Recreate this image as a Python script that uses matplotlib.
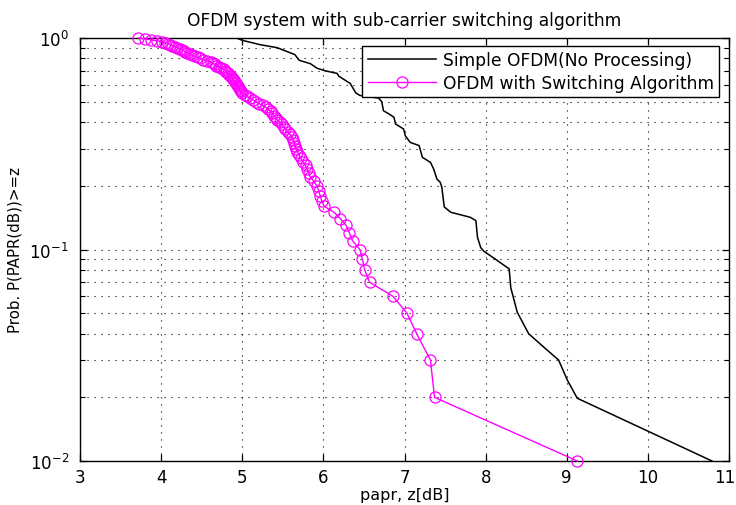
import matplotlib
matplotlib.use("Agg")
import matplotlib.pyplot as plt
import matplotlib.transforms as mtransforms
import numpy as np
from matplotlib.ticker import LogLocator, NullFormatter, FixedLocator

# ---- data ----
# OFDM with switching algorithm: CCDF probabilities 1.00 .. 0.01 (step 0.01)
switch_prob = [round(1.0 - 0.01 * k, 2) for k in range(100)]
switch_papr = [
    3.72, 3.80, 3.88, 3.95, 4.01, 4.05, 4.08, 4.11, 4.14, 4.17,
    4.20, 4.23, 4.26, 4.28, 4.30, 4.32, 4.35, 4.38, 4.42, 4.45,
    4.48, 4.52, 4.57, 4.61, 4.64, 4.66, 4.68, 4.71, 4.74, 4.77,
    4.79, 4.80, 4.82, 4.84, 4.86, 4.87, 4.88, 4.90, 4.91, 4.92,
    4.93, 4.95, 4.96, 4.97, 4.98, 5.00, 5.03, 5.06, 5.09, 5.13,
    5.17, 5.21, 5.25, 5.29, 5.32, 5.35, 5.37, 5.39, 5.41, 5.43,
    5.46, 5.49, 5.51, 5.53, 5.56, 5.59, 5.61, 5.63, 5.64, 5.65,
    5.66, 5.68, 5.70, 5.72, 5.75, 5.78, 5.80, 5.82, 5.84, 5.88,
    5.92, 5.94, 5.96, 5.98, 6.01, 6.13, 6.21, 6.28, 6.32, 6.36,
    6.45, 6.48, 6.51, 6.57, 6.86, 7.03, 7.15, 7.32, 7.37, 9.13,
]

# Simple OFDM (no processing): vertices of the black curve
simple_papr = [4.73, 4.93, 5.00, 5.22, 5.43, 5.65, 5.70, 5.84, 5.92, 6.02,
               6.17, 6.19, 6.33, 6.40, 6.45, 6.68, 6.72, 6.74, 6.81, 6.87,
               6.89, 6.99, 7.01, 7.07, 7.18, 7.22, 7.32, 7.36, 7.40, 7.44,
               7.46, 7.49, 7.57, 7.81, 7.88, 7.90, 7.94, 7.98, 8.12, 8.29,
               8.31, 8.39, 8.53, 8.70, 8.90, 9.01, 9.13, 10.79]
simple_prob = [1.0, 1.0, 0.975, 0.93, 0.90, 0.834, 0.785, 0.756, 0.72, 0.70,
               0.68, 0.66, 0.61, 0.55, 0.535, 0.52, 0.50, 0.453, 0.437, 0.422,
               0.392, 0.371, 0.345, 0.321, 0.31, 0.273, 0.258, 0.24, 0.215, 0.208,
               0.197, 0.159, 0.15, 0.142, 0.137, 0.114, 0.102, 0.098, 0.09, 0.081,
               0.066, 0.0505, 0.04, 0.035, 0.03, 0.024, 0.0198, 0.01]

x_ticks = [3, 4, 5, 6, 7, 8, 9, 10, 11]
title_text = "OFDM system with sub-carrier switching algorithm"
xlabel_text = "papr, z[dB]"
ylabel_text = "Prob. P(PAPR(dB))>=z"
legend_labels = ["Simple OFDM(No Processing)", "OFDM with Switching Algorithm"]

# ---- figure ----
plt.rcParams['font.family'] = ['DejaVu Sans']
plt.rcParams['mathtext.default'] = 'regular'
W, H = 736, 506
fig = plt.figure(figsize=(W / 100, H / 100), dpi=100)
L, R, T, B = 80, 729, 39, 462
ax = fig.add_axes([L / W, 1 - B / H, (R - L) / W, (B - T) / H])

ax.set_yscale('log')
ax.set_xlim(3, 11)
ax.set_ylim(0.01, 1)

grid_style = dict(color='black', linestyle=(0, (1, 5.3)), linewidth=0.8)
ax.grid(True, which='major', axis='both', **grid_style)
ax.grid(True, which='minor', axis='y', **grid_style)
ax.set_axisbelow(True)

l1, = ax.plot(simple_papr, simple_prob, color='black', linewidth=1.1,
              label=legend_labels[0])
l2, = ax.plot(switch_papr, switch_prob, color='#ff00ff', linewidth=1.0,
              marker='o', markersize=8, markerfacecolor='none',
              markeredgecolor='#ff00ff', markeredgewidth=0.9,
              label=legend_labels[1], clip_on=False, zorder=3)

ax.xaxis.set_major_locator(FixedLocator(x_ticks))
ax.yaxis.set_major_locator(LogLocator(base=10, numticks=10))
ax.yaxis.set_minor_locator(LogLocator(base=10, subs=np.arange(2, 10), numticks=20))
ax.yaxis.set_minor_formatter(NullFormatter())

ax.tick_params(which='both', direction='in', top=True, right=True,
               colors='black', labelsize=12)
ax.tick_params(which='major', length=5, width=0.9)
ax.tick_params(which='minor', length=3.5, width=0.8)
ax.tick_params(axis='x', pad=5)
ax.tick_params(axis='y', pad=8)

for s in ax.spines.values():
    s.set_linewidth(1.0)
    s.set_color('black')

ax.set_title(title_text, fontsize=12.3, pad=9)
ax.set_xlabel(xlabel_text, fontsize=11.5)
ax.xaxis.set_label_coords(0.5, -0.062)
ax.set_ylabel(ylabel_text, fontsize=10.8)
ax.yaxis.set_label_coords(-0.089, 0.5)

# keep the last x tick label ("11") inside the canvas
fig.canvas.draw()
last_lbl = ax.get_xticklabels()[-1]
last_lbl.set_transform(last_lbl.get_transform() +
                       mtransforms.ScaledTranslation(-4 / 100, 0, fig.dpi_scale_trans))

leg = ax.legend(handles=[l1, l2], loc='upper right',
                bbox_to_anchor=(719 / W, 1 - 47 / H),
                bbox_transform=fig.transFigure, borderaxespad=0,
                fontsize=12.3, frameon=True, fancybox=False, shadow=False,
                handlelength=4.0, handletextpad=0.4, borderpad=0.3,
                labelspacing=0.3)
leg.get_frame().set_edgecolor('black')
leg.get_frame().set_linewidth(1.0)
leg.get_frame().set_facecolor('white')
leg.get_frame().set_alpha(1)

fig.savefig("out.png", dpi=100)
